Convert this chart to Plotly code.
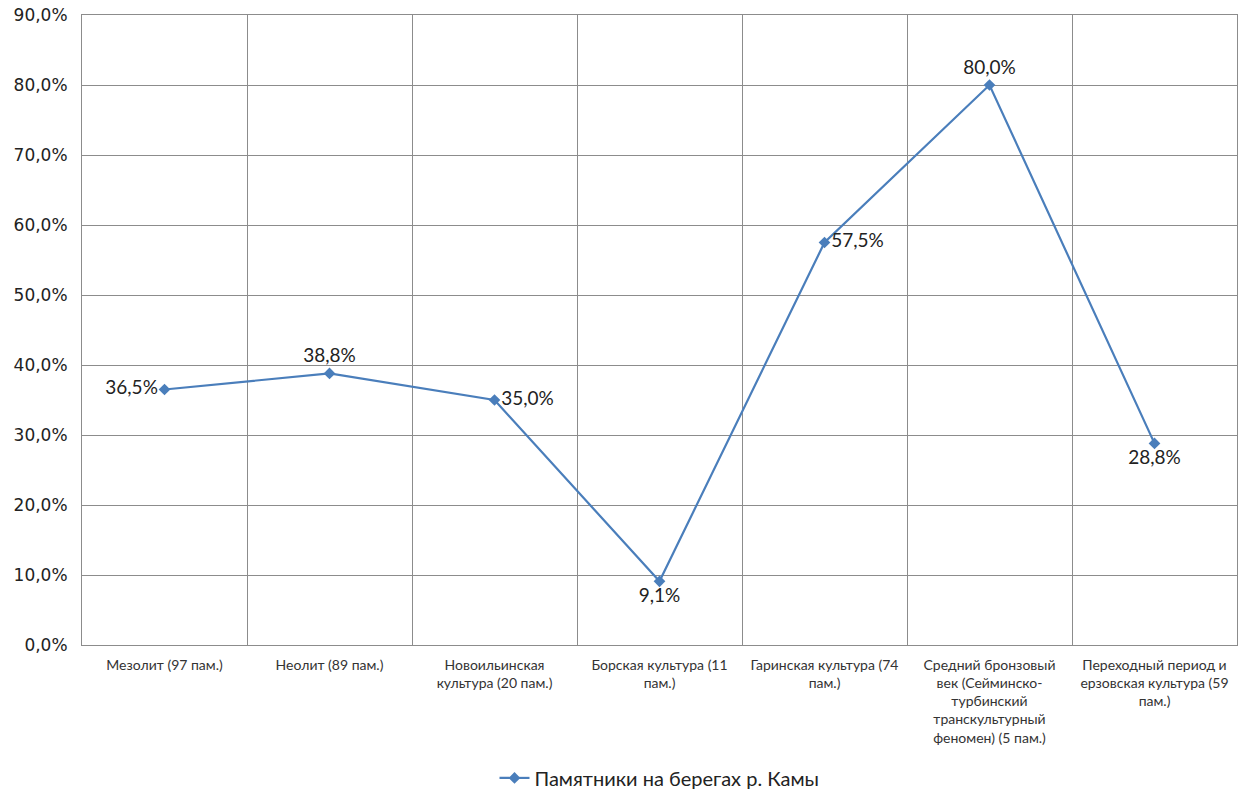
import plotly.graph_objects as go

categories = [
    "Мезолит (97 пам.)",
    "Неолит (89 пам.)",
    "Новоильинская<br>культура (20 пам.)",
    "Борская культура (11<br>пам.)",
    "Гаринская культура (74<br>пам.)",
    "Средний бронзовый<br>век (Сейминско-<br>турбинский<br>транскультурный<br>феномен) (5 пам.)",
    "Переходный период и<br>ерзовская культура (59<br>пам.)",
]
values = [0.365, 0.388, 0.350, 0.091, 0.575, 0.800, 0.288]
label_pos = ["middle left", "top center", "middle right", "bottom center",
             "middle right", "top center", "bottom center"]
series_name = "Памятники на берегах р. Камы"

blue = "#4A7EBB"
grid = "#8C8C8C"

fig = go.Figure()
fig.add_trace(go.Scatter(
    x=categories, y=values, mode="lines+markers+text",
    name=series_name,
    line=dict(color=blue, width=2.2),
    marker=dict(symbol="diamond", size=9, color=blue),
    text=values, texttemplate="%{y:.1%}", textposition=label_pos,
    textfont=dict(family="Lato, Open Sans, sans-serif", size=19, color="#222"),
    cliponaxis=False,
))

fig.update_layout(
    width=1248, height=794,
    margin=dict(l=82, r=11, t=15, b=149, autoexpand=False),
    paper_bgcolor="white", plot_bgcolor="white",
    separators=", ",
    showlegend=True,
    legend=dict(orientation="h", x=0.5, xanchor="center", y=-0.211, yanchor="middle",
                font=dict(family="Lato, Open Sans, sans-serif", size=20, color="#222")),
    xaxis=dict(type="category", tickson="boundaries", showgrid=True, gridcolor=grid,
               gridwidth=1, ticks="", showline=True, linecolor=grid, mirror=True,
               automargin=False, ticklabelstandoff=7,
               tickfont=dict(family="Lato, Open Sans, sans-serif", size=14, color="#333"),
               tickangle=0, range=[-0.5, 6.5]),
    yaxis=dict(range=[0, 0.9], dtick=0.1, tickformat=".1%", showgrid=True,
               gridcolor=grid, gridwidth=1, showline=True, linecolor=grid, mirror=True,
               ticks="", zeroline=False, automargin=False, ticklabelstandoff=10,
               ticklabeloverflow="allow",
               tickfont=dict(family="DejaVu Sans, Verdana, sans-serif", size=17, color="#222")),
)

fig.write_html("out.html", config={"displayModeBar": False},
               post_script="document.body.style.margin='0';")
